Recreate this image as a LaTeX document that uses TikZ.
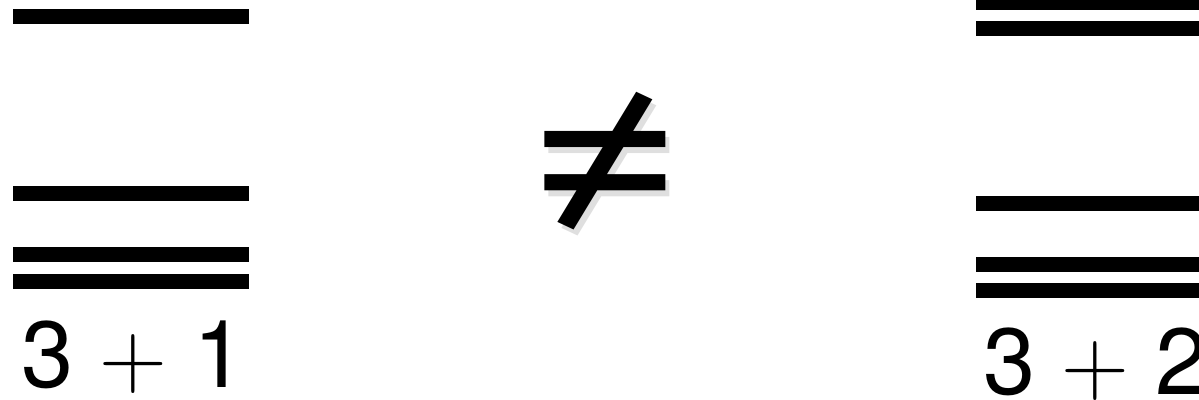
\documentclass[tikz,border=0pt]{standalone}
\usepackage[no-math]{fontspec}
\setmainfont{TeX Gyre Heros}
\newfontfamily\lmplus{Latin Modern Roman}
\begin{document}
\begin{tikzpicture}[x=0.5pt,y=-0.5pt,
    bar/.style={fill=black},
    sumlabel/.style={anchor=base west,inner sep=0pt,font=\fontsize{47}{50}\selectfont},
    neqsign/.style={inner sep=0pt,yscale=0.88,font=\fontsize{135}{135}\selectfont}]
  \useasboundingbox (0,0) rectangle (1199,400);
  \clip (0,0) rectangle (1199,400);
  % Left stack of levels
  \foreach \t in {9,186,247,274}
    \fill[bar] (13,\t) rectangle (249,\t+15);
  \node[sumlabel] (leftsum) at (21,388) {3 {\lmplus +} 1};
  % Right stack of levels
  \foreach \t in {-5,21,196,257,283}
    \fill[bar] (976,\t) rectangle (1212,\t+15);
  \node[sumlabel] (rightsum) at (983,394) {3 {\lmplus +} 2};
  % Not-equal sign with soft shadow
  \node[neqsign,text=black!25,opacity=0.5] (neqshadow) at (609,167) {≠};
  \node[neqsign] (neq) at (605,161) {≠};
\end{tikzpicture}
\end{document}
